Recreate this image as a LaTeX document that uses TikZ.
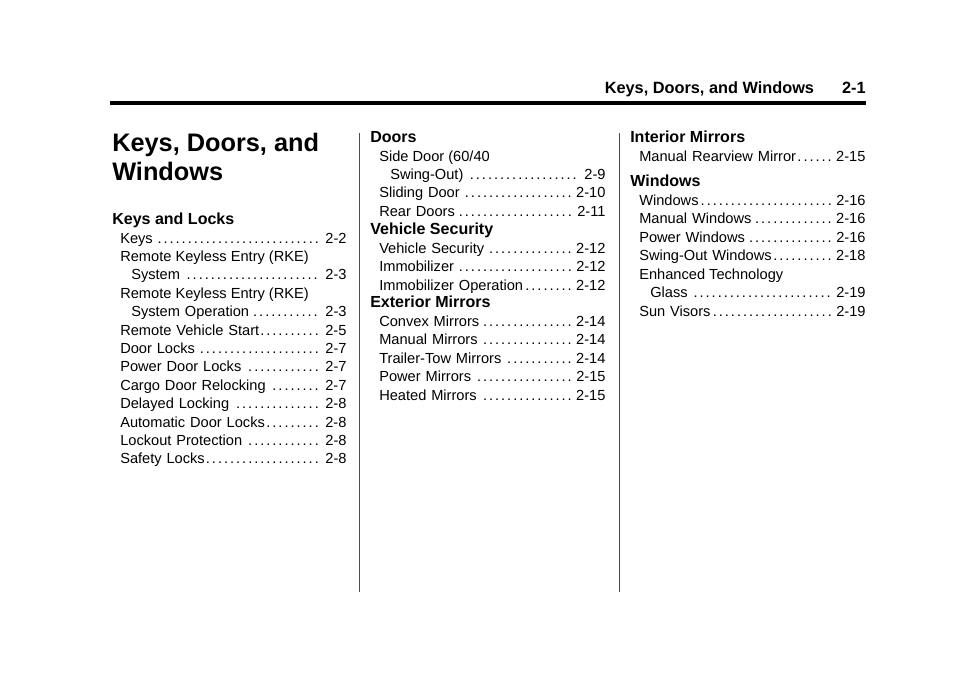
\documentclass[tikz,border=0pt]{standalone}
\usepackage{fontspec}
\setmainfont{Liberation Sans}
\newcommand{\leaderdots}{\leaders\hbox to 4.3pt{\hss.\hss}\hfill}
% one table-of-contents line: x, right edge, y, text, page, name
\newcommand{\tocentry}[6]{\pgfmathsetmacro{\entrywidth}{(#2-#1)*0.7087}\node[entry,text width=\entrywidth pt] (#6) at (#1,#3) {#4\leaderdots\,#5};}
\newcommand{\tocplain}[4]{\node[entry] (#4) at (#1,#2) {#3};}
\begin{document}
\begin{tikzpicture}[x=0.025cm,y=-0.025cm]
  \tikzset{entry/.style={anchor=base west,inner sep=0pt,font=\fontsize{10.4pt}{12pt}\selectfont},
    heading/.style={anchor=base west,inner sep=0pt,font=\fontsize{11.4pt}{14pt}\selectfont\bfseries},
    colrule/.style={line width=0.6pt,black!70}}
  \useasboundingbox (0,0) rectangle (960,672);
  % header
  \node[anchor=base east,inner sep=0pt,font=\fontsize{11.6pt}{14pt}\selectfont\bfseries] (head) at (866,93) {Keys, Doors, and Windows\hspace{20pt}2-1};
  \draw[line width=2.2pt] (110,103) -- (866,103);
  \node[anchor=base west,inner sep=0pt,font=\fontsize{18pt}{20pt}\selectfont\bfseries] (title) at (112,151) {Keys, Doors, and};
  \node[anchor=base west,inner sep=0pt,font=\fontsize{18pt}{20pt}\selectfont\bfseries] (title2) at (112,180) {Windows};
  % column rules
  \draw[colrule] (359,133) -- (359,592);
  \draw[colrule] (619,133) -- (619,592);
  % column 1
  \node[heading] (h1) at (112,224) {Keys and Locks};
  \tocentry{120}{347}{243}{Keys}{2-2}{a1}
  \tocplain{120}{261}{Remote Keyless Entry (RKE)}{a2}
  \tocentry{131}{347}{279}{System}{2-3}{a3}
  \tocplain{120}{298}{Remote Keyless Entry (RKE)}{a4}
  \tocentry{131}{347}{316}{System Operation}{2-3}{a5}
  \tocentry{120}{347}{335}{Remote Vehicle Start}{2-5}{a6}
  \tocentry{120}{347}{353}{Door Locks}{2-7}{a7}
  \tocentry{120}{347}{371}{Power Door Locks}{2-7}{a8}
  \tocentry{120}{347}{390}{Cargo Door Relocking}{2-7}{a9}
  \tocentry{120}{347}{408}{Delayed Locking}{2-8}{a10}
  \tocentry{120}{347}{427}{Automatic Door Locks}{2-8}{a11}
  \tocentry{120}{347}{445}{Lockout Protection}{2-8}{a12}
  \tocentry{120}{347}{463}{Safety Locks}{2-8}{a13}
  % column 2
  \node[heading] (h2) at (370,142) {Doors};
  \tocplain{379}{161}{Side Door (60/40}{b1}
  \tocentry{390}{606}{179}{Swing-Out)}{2-9}{b2}
  \tocentry{379}{606}{197}{Sliding Door}{2-10}{b3}
  \tocentry{379}{606}{216}{Rear Doors}{2-11}{b4}
  \node[heading] (h3) at (370,234) {Vehicle Security};
  \tocentry{379}{606}{253}{Vehicle Security}{2-12}{b5}
  \tocentry{379}{606}{271}{Immobilizer}{2-12}{b6}
  \tocentry{379}{606}{290}{Immobilizer Operation}{2-12}{b7}
  \node[heading] (h4) at (370,307) {Exterior Mirrors};
  \tocentry{379}{606}{326}{Convex Mirrors}{2-14}{b8}
  \tocentry{379}{606}{344}{Manual Mirrors}{2-14}{b9}
  \tocentry{379}{606}{363}{Trailer-Tow Mirrors}{2-14}{b10}
  \tocentry{379}{606}{381}{Power Mirrors}{2-15}{b11}
  \tocentry{379}{606}{400}{Heated Mirrors}{2-15}{b12}
  % column 3
  \node[heading] (h5) at (630,142) {Interior Mirrors};
  \tocentry{639}{866}{161}{Manual Rearview Mirror}{2-15}{c1}
  \node[heading] (h6) at (630,186) {Windows};
  \tocentry{639}{866}{205}{Windows}{2-16}{c2}
  \tocentry{639}{866}{223}{Manual Windows}{2-16}{c3}
  \tocentry{639}{866}{242}{Power Windows}{2-16}{c4}
  \tocentry{639}{866}{260}{Swing-Out Windows}{2-18}{c5}
  \tocplain{639}{279}{Enhanced Technology}{c6}
  \tocentry{650}{866}{297}{Glass}{2-19}{c7}
  \tocentry{639}{866}{316}{Sun Visors}{2-19}{c8}
\end{tikzpicture}
\end{document}
